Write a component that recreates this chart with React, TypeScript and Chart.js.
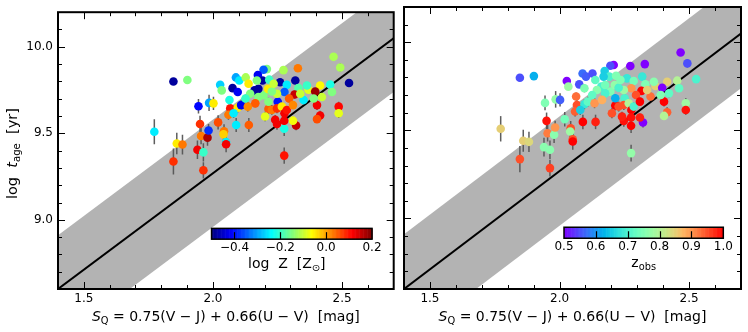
import React, { useEffect, useRef } from "react";
import { Chart, registerables } from "chart.js";

Chart.register(...registerables);

// ---------------- data ----------------
const sq = [
  1.847, 1.901, 1.944, 1.985, 2.002, 1.773, 1.86, 1.882, 1.847, 1.94,
  1.963, 1.95, 1.954, 1.979, 1.983, 1.963, 2.02, 2.043, 2.041, 2.051,
  2.051, 2.09, 2.139, 2.276, 2.276, 2.248, 2.322, 2.31, 2.415, 2.403,
  2.487, 2.487, 2.403, 2.467, 2.493, 2.527, 2.454, 2.461, 2.422, 2.415,
  2.37, 2.396, 2.329, 2.273, 2.209, 2.196, 2.174, 2.192, 2.218, 2.26,
  2.319, 2.286, 2.277, 2.331, 2.316, 2.351, 2.295, 2.251, 2.196, 2.248,
  2.076, 2.096, 2.089, 2.102, 2.127, 2.138, 2.161, 2.176, 2.213, 2.228,
  2.028, 2.034, 2.067, 2.096, 2.109, 2.135, 2.06, 2.08, 2.215, 2.228,
  2.248, 2.267, 2.277, 2.276, 2.202, 2.241, 2.144, 2.176, 2.064, 2.286,
  2.17, 2.235, 2.364, 2.338, 2.215, 2.31, 2.39, 2.126, 2.164,
];
const logAge = [
  9.799, 9.808, 9.656, 9.676, 9.673, 9.509, 9.441, 9.435, 9.337, 9.405,
  9.39, 9.554, 9.484, 9.475, 9.516, 9.286, 9.563, 9.512, 9.494, 9.45,
  9.437, 9.548, 9.548, 9.371, 9.526, 9.554, 9.545, 9.573, 9.603, 9.582,
  9.654, 9.616, 9.663, 9.942, 9.88, 9.791, 9.782, 9.739, 9.71, 9.776,
  9.752, 9.742, 9.876, 9.865, 9.871, 9.867, 9.837, 9.805, 9.81, 9.795,
  9.805, 9.78, 9.739, 9.761, 9.724, 9.692, 9.701, 9.682, 9.72, 9.729,
  9.761, 9.739, 9.823, 9.805, 9.823, 9.786, 9.748, 9.757, 9.757, 9.742,
  9.78, 9.748, 9.644, 9.648, 9.663, 9.654, 9.607, 9.616, 9.641, 9.635,
  9.644, 9.654, 9.616, 9.573, 9.597, 9.578, 9.729, 9.71, 9.692, 9.635,
  9.805, 9.786, 9.776, 9.729, 9.682, 9.663, 9.701, 9.701, 9.673,
];
const logAgeErr = [
  0.015, 0.015, 0.042, 0.047, 0.038, 0.072, 0.062, 0.057, 0.075, 0.053,
  0.053, 0.047, 0.047, 0.047, 0.038, 0.047, 0.041, 0.041, 0.038, 0.034,
  0.047, 0.041, 0.041, 0.047, 0.041, 0.034, 0.028, 0.023, 0.028, 0.023,
  0.028, 0.028, 0.028, 0.019, 0.023, 0.015, 0.019, 0.019, 0.023, 0.019,
  0.019, 0.019, 0.019, 0.019, 0.015, 0.015, 0.015, 0.015, 0.015, 0.015,
  0.015, 0.015, 0.019, 0.019, 0.023, 0.023, 0.023, 0.023, 0.019, 0.019,
  0.019, 0.023, 0.019, 0.019, 0.019, 0.019, 0.019, 0.019, 0.019, 0.019,
  0.019, 0.019, 0.028, 0.028, 0.028, 0.028, 0.028, 0.028, 0.028, 0.028,
  0.028, 0.023, 0.028, 0.028, 0.028, 0.028, 0.019, 0.019, 0.023, 0.023,
  0.019, 0.019, 0.019, 0.019, 0.023, 0.023, 0.023, 0.023, 0.023,
];
const logZ = [
  -0.48, -0.15, -0.41, -0.3, -0.05, -0.25, -0.05, 0.03, 0.08, 0.12,
  -0.2, 0.08, 0.03, 0.17, -0.38, 0.08, 0.06, 0.03, -0.03, -0.25,
  0.12, -0.25, 0.05, 0.1, -0.22, 0.12, 0.15, -0.07, 0.12, 0.06,
  0.11, -0.08, 0.12, -0.12, -0.12, -0.48, -0.22, -0.15, -0.1, -0.06,
  -0.08, 0.18, 0.03, -0.12, -0.15, -0.35, -0.42, -0.48, -0.2, -0.48,
  -0.48, -0.25, -0.35, -0.18, 0.15, -0.25, 0.05, -0.4, -0.15, -0.1,
  -0.48, -0.42, -0.3, -0.25, -0.12, -0.05, -0.48, -0.48, -0.05, -0.15,
  -0.27, -0.15, 0.1, -0.05, -0.42, 0.02, 0.03, -0.25, 0.05, 0.03,
  0.08, -0.05, 0.12, 0.12, -0.08, 0.12, -0.15, -0.15, -0.22, 0.1,
  -0.15, -0.1, -0.2, -0.1, -0.15, 0.02, -0.15, -0.2, 0.05,
];
const zObs = [
  0.55, 0.62, 0.75, 0.77, 0.56, 0.85, 0.85, 0.84, 0.95, 0.76,
  0.76, 0.99, 0.92, 0.76, 0.9, 0.96, 0.74, 0.95, 0.78, 0.95,
  1.0, 1.0, 0.98, 0.77, 1.0, 0.99, 0.5, 0.98, 0.94, 0.8,
  0.78, 0.99, 1.0, 0.5, 0.55, 0.7, 0.8, 0.72, 0.72, 0.85,
  0.85, 0.5, 0.5, 0.5, 0.5, 0.55, 0.65, 0.7, 0.75, 0.68,
  0.68, 0.74, 0.9, 0.75, 1.0, 0.93, 0.95, 0.7, 0.75, 0.78,
  0.55, 0.75, 0.57, 0.56, 0.55, 0.72, 0.7, 0.74, 0.77, 0.7,
  0.5, 0.78, 0.95, 0.68, 0.72, 0.9, 0.94, 0.65, 1.0, 0.95,
  0.95, 0.8, 1.0, 0.99, 0.95, 0.98, 0.76, 0.7, 0.93, 0.7,
  0.65, 0.75, 0.76, 0.85, 0.62, 1.0, 0.75, 0.72, 0.88,
];

const xRange = [1.4, 2.7];
const yRange = [8.6, 10.2];
const xMajorTicks = [1.5, 2.0, 2.5];
const yMajorTicks = [9.0, 9.5, 10.0];
const relationX = [1.3, 2.9];
const relationSlope = 1.115;
const relationIntercept = 7.039;
const relationScatter = 0.31;
const logZRange = [-0.5, 0.2];
const logZTicks = [-0.4, -0.2, 0.0, 0.2];
const zObsRange = [0.5, 1.0];
const zObsTicks = [0.5, 0.6, 0.7, 0.8, 0.9, 1.0];

// ---------------- helpers ----------------
const FONT = '"DejaVu Sans", sans-serif';
const TICK_SIZE = 12;
const clamp01 = (v: number) => Math.max(0, Math.min(1, v));
const toRgb = (r: number, g: number, b: number) =>
  `rgb(${Math.round(clamp01(r) * 255)},${Math.round(clamp01(g) * 255)},${Math.round(clamp01(b) * 255)})`;
function jet(t: number) {
  t = clamp01(t);
  return toRgb(1.5 - Math.abs(4 * t - 3), 1.5 - Math.abs(4 * t - 2), 1.5 - Math.abs(4 * t - 1));
}
function rainbow(t: number) {
  t = clamp01(t);
  return toRgb(Math.abs(2 * t - 0.5), Math.sin(Math.PI * t), Math.cos((Math.PI * t) / 2));
}

type Seg = { t: string; it?: boolean; sub?: boolean };
function segFont(s: Seg, size: number) {
  const sz = s.sub ? size * 0.7 : size;
  return `${s.it ? "italic " : ""}${sz}px ${FONT}`;
}
function drawRich(ctx: CanvasRenderingContext2D, segs: Seg[], cx: number, by: number, size: number) {
  let w = 0;
  for (const s of segs) {
    ctx.font = segFont(s, size);
    w += ctx.measureText(s.t).width;
  }
  let x = cx - w / 2;
  ctx.textAlign = "left";
  ctx.textBaseline = "alphabetic";
  ctx.fillStyle = "#000";
  for (const s of segs) {
    ctx.font = segFont(s, size);
    ctx.fillText(s.t, x, s.sub ? by + size * 0.22 : by);
    x += ctx.measureText(s.t).width;
  }
}

const xLabel: Seg[] = [{ t: "S", it: true }, { t: "Q", sub: true }, { t: " = 0.75(V \u2212 J) + 0.66(U \u2212 V)  [mag]" }];
const yLabel: Seg[] = [{ t: "log  " }, { t: "t", it: true }, { t: "age", sub: true }, { t: "  [yr]" }];
const zLabel: Seg[] = [{ t: "log  Z  [Z" }, { t: "\u2299", sub: true }, { t: "]" }];
const zObsLabel: Seg[] = [{ t: "z" }, { t: "obs", sub: true }];

type Cbar = {
  range: number[];
  ticks: number[];
  cmap: (t: number) => string;
  fx: [number, number];
  fy: [number, number];
  label: Seg[];
  labelDx: number;
};

function fmtTick(v: number) {
  const s = Math.abs(v).toFixed(1);
  return v < -1e-9 ? "\u2212" + s : s;
}

function makeChart(
  canvas: HTMLCanvasElement,
  colors: string[],
  opts: { yAxisWidth: number; padRight: number; showYLabels: boolean; cbar: Cbar }
) {
  const points = sq.map((x, i) => ({ x, y: logAge[i] }));
  const rel = (d: number) => relationX.map((x) => ({ x, y: relationSlope * x + relationIntercept + d }));

  const errorBars = {
    id: "errorBars",
    beforeDatasetDraw(chart: any, args: any) {
      if (args.index !== 0) return;
      const ctx = chart.ctx;
      const xs = chart.scales.x;
      const ys = chart.scales.y;
      ctx.save();
      ctx.beginPath();
      ctx.rect(chart.chartArea.left, chart.chartArea.top, chart.chartArea.right - chart.chartArea.left, chart.chartArea.bottom - chart.chartArea.top);
      ctx.clip();
      ctx.strokeStyle = "rgba(85,85,85,0.95)";
      ctx.lineWidth = 1.5;
      for (let i = 0; i < sq.length; i++) {
        const px = xs.getPixelForValue(sq[i]);
        ctx.beginPath();
        ctx.moveTo(px, ys.getPixelForValue(logAge[i] - logAgeErr[i]));
        ctx.lineTo(px, ys.getPixelForValue(logAge[i] + logAgeErr[i]));
        ctx.stroke();
      }
      ctx.restore();
    },
  };

  const decorations = {
    id: "decorations",
    afterDraw(chart: any) {
      const ctx: CanvasRenderingContext2D = chart.ctx;
      const { left, right, top, bottom } = chart.chartArea;
      const xs = chart.scales.x;
      const ys = chart.scales.y;
      ctx.save();
      ctx.strokeStyle = "#000";
      ctx.lineWidth = 1;
      for (let k = Math.round(xRange[0] * 10) + 1; k < Math.round(xRange[1] * 10); k++) {
        const v = k / 10;
        const major = xMajorTicks.some((m) => Math.abs(m - v) < 1e-6);
        const len = major ? 7 : 4;
        const px = Math.round(xs.getPixelForValue(v)) + 0.5;
        ctx.beginPath();
        ctx.moveTo(px, bottom);
        ctx.lineTo(px, bottom - len);
        ctx.moveTo(px, top);
        ctx.lineTo(px, top + len);
        ctx.stroke();
      }
      for (let k = Math.round(yRange[0] * 10) + 1; k < Math.round(yRange[1] * 10); k++) {
        const v = k / 10;
        const major = yMajorTicks.some((m) => Math.abs(m - v) < 1e-6);
        const len = major ? 7 : 4;
        const py = Math.round(ys.getPixelForValue(v)) + 0.5;
        ctx.beginPath();
        ctx.moveTo(left, py);
        ctx.lineTo(left + len, py);
        ctx.moveTo(right, py);
        ctx.lineTo(right - len, py);
        ctx.stroke();
      }
      ctx.lineWidth = 2;
      ctx.strokeRect(left, top, right - left, bottom - top);

      // colorbar
      const cb = opts.cbar;
      const w = right - left;
      const h = bottom - top;
      const cx0 = left + cb.fx[0] * w;
      const cx1 = left + cb.fx[1] * w;
      const cy0 = top + cb.fy[0] * h;
      const cy1 = top + cb.fy[1] * h;
      const n = 200;
      for (let i = 0; i < n; i++) {
        ctx.fillStyle = cb.cmap((i + 0.5) / n);
        const a = cx0 + ((cx1 - cx0) * i) / n;
        ctx.fillRect(a, cy0, (cx1 - cx0) / n + 0.6, cy1 - cy0);
      }
      const vpx = (v: number) => cx0 + ((v - cb.range[0]) / (cb.range[1] - cb.range[0])) * (cx1 - cx0);
      ctx.strokeStyle = "#000";
      ctx.lineWidth = 1.2;
      for (const v of cb.ticks) {
        if (v <= cb.range[0] + 1e-9 || v >= cb.range[1] - 1e-9) continue;
        const px = Math.round(vpx(v)) + 0.5;
        ctx.beginPath();
        ctx.moveTo(px, cy1);
        ctx.lineTo(px, cy1 - 7);
        ctx.stroke();
      }
      ctx.lineWidth = 1.5;
      ctx.strokeRect(cx0, cy0, cx1 - cx0, cy1 - cy0);
      ctx.fillStyle = "#000";
      ctx.font = `${TICK_SIZE}px ${FONT}`;
      ctx.textAlign = "center";
      ctx.textBaseline = "alphabetic";
      for (const v of cb.ticks) ctx.fillText(fmtTick(v), vpx(v), cy1 + 12);
      drawRich(ctx, cb.label, (cx0 + cx1) / 2 + cb.labelDx, cy1 + 29, 14);

      drawRich(ctx, xLabel, (left + right) / 2, 321, 14);
      if (opts.showYLabels) {
        ctx.save();
        ctx.translate(17, (top + bottom) / 2 + 3);
        ctx.rotate(-Math.PI / 2);
        drawRich(ctx, yLabel, 0, 0, 14.5);
        ctx.restore();
      }
      ctx.restore();
    },
  };

  return new Chart(canvas, {
    type: "scatter",
    data: {
      datasets: [
        {
          type: "scatter",
          data: points,
          backgroundColor: colors,
          pointRadius: 4.3,
          pointBorderWidth: 0,
          borderColor: "rgba(0,0,0,0)",
          order: 0,
        } as any,
        {
          type: "line",
          data: rel(0),
          borderColor: "#000",
          borderWidth: 2,
          pointRadius: 0,
          fill: false,
          order: 1,
        } as any,
        {
          type: "line",
          data: rel(relationScatter),
          borderColor: "rgba(0,0,0,0)",
          borderWidth: 1,
          pointRadius: 0,
          fill: false,
          order: 2,
        } as any,
        {
          type: "line",
          data: rel(-relationScatter),
          borderColor: "rgba(0,0,0,0)",
          backgroundColor: "#b3b3b3",
          borderWidth: 1,
          pointRadius: 0,
          fill: "-1",
          order: 3,
        } as any,
      ],
    },
    options: {
      animation: false,
      responsive: false,
      devicePixelRatio: 1,
      events: [],
      layout: { padding: { top: 7, right: opts.padRight, left: 0, bottom: 0 } },
      plugins: { legend: { display: false }, tooltip: { enabled: false } },
      scales: {
        x: {
          type: "linear",
          min: xRange[0],
          max: xRange[1],
          afterBuildTicks: (s: any) => {
            s.ticks = xMajorTicks.map((v) => ({ value: v }));
          },
          afterFit: (s: any) => {
            s.height = 43;
          },
          ticks: {
            callback: (v: any) => Number(v).toFixed(1),
            font: { family: FONT, size: TICK_SIZE },
            color: "#000",
            padding: 3,
            maxRotation: 0,
            autoSkip: false,
          },
          grid: { display: false, drawTicks: false },
          border: { display: false },
        },
        y: {
          type: "linear",
          min: yRange[0],
          max: yRange[1],
          afterBuildTicks: (s: any) => {
            s.ticks = yMajorTicks.map((v) => ({ value: v }));
          },
          afterFit: (s: any) => {
            s.width = opts.yAxisWidth;
          },
          ticks: {
            display: opts.showYLabels,
            callback: (v: any) => Number(v).toFixed(1),
            font: { family: FONT, size: TICK_SIZE },
            color: "#000",
            padding: 5,
            autoSkip: false,
          },
          grid: { display: false, drawTicks: false },
          border: { display: false },
        },
      },
    } as any,
    plugins: [errorBars, decorations],
  });
}

export default function App() {
  const leftRef = useRef<HTMLCanvasElement>(null);
  const rightRef = useRef<HTMLCanvasElement>(null);

  useEffect(() => {
    const zColors = logZ.map((v) => jet((v - logZRange[0]) / (logZRange[1] - logZRange[0])));
    const zoColors = zObs.map((v) => rainbow((v - zObsRange[0]) / (zObsRange[1] - zObsRange[0])));
    const c1 = makeChart(leftRef.current!, zColors, {
      yAxisWidth: 58,
      padRight: 4,
      showYLabels: true,
      cbar: {
        range: logZRange,
        ticks: logZTicks,
        cmap: jet,
        fx: [0.4574, 0.9354],
        fy: [0.781, 0.82],
        label: zLabel,
        labelDx: -5,
      },
    });
    const c2 = makeChart(rightRef.current!, zoColors, {
      yAxisWidth: 6,
      padRight: 7,
      showYLabels: false,
      cbar: {
        range: zObsRange,
        ticks: zObsTicks,
        cmap: rainbow,
        fx: [0.4748, 0.9475],
        fy: [0.781, 0.82],
        label: zObsLabel,
        labelDx: 0,
      },
    });
    return () => {
      c1.destroy();
      c2.destroy();
    };
  }, []);

  return (
    <div style={{ position: "fixed", left: 0, top: 0, width: 748, height: 332, background: "#fff" }}>
      <canvas ref={leftRef} width={398} height={332} style={{ position: "absolute", left: 0, top: 0, width: 398, height: 332 }} />
      <canvas ref={rightRef} width={350} height={332} style={{ position: "absolute", left: 398, top: 0, width: 350, height: 332 }} />
    </div>
  );
}
